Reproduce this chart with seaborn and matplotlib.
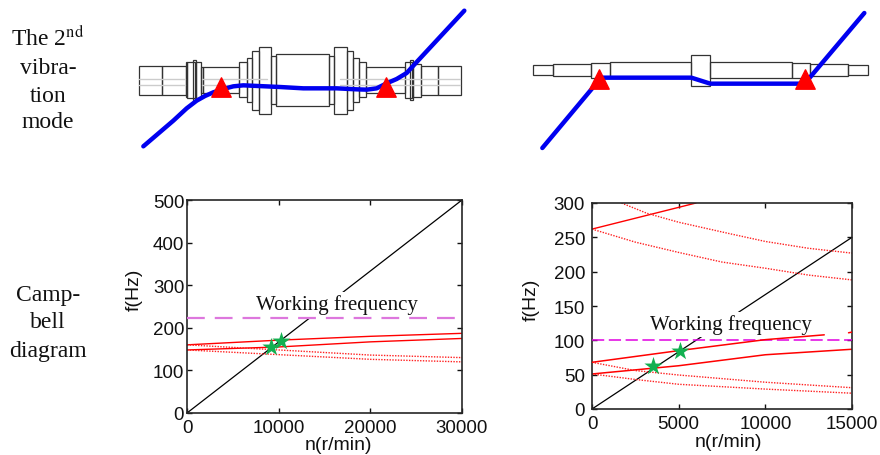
import numpy as np
import pandas as pd
import matplotlib
matplotlib.use('Agg')
import matplotlib.pyplot as plt
from matplotlib.patches import Rectangle
import seaborn as sns

sns.set_theme(style='ticks')
plt.rcParams['font.family'] = ['Liberation Sans', 'DejaVu Sans']
plt.rcParams['mathtext.fontset'] = 'stix'

#--- shaft sketches, (x0, x1, y0, y1) in sketch units
left_shaft = [(27,95,200,288), (95,167,200,288), (167,172,190,295), (172,195,188,297),
              (190,197,182,303), (197,212,190,297), (212,218,205,283), (218,328,205,283),
              (328,350,190,295), (350,367,178,310), (367,387,155,332), (387,424,143,344),
              (424,439,172,315), (439,598,166,320), (598,613,172,315), (613,650,143,344),
              (650,670,155,332), (670,688,178,310), (688,709,190,295), (709,825,205,283),
              (825,845,190,297), (840,848,182,303), (848,872,195,295), (872,924,200,288),
              (924,992,200,288)]
left_center_x = [27, 165, 215, 410, 630, 990]
left_center_y = [240, 257]
left_mode_x = [40, 130, 170, 200, 225, 250, 280, 310, 340, 450, 520, 620, 680, 710, 740, 770, 800, 830, 850, 1003]
left_mode_y = [442, 365, 328, 305, 291, 280, 270, 262, 259, 264, 268, 268, 271, 272, 268, 253, 240, 222, 200, 35]
left_bearing_x = [273, 768]
left_bearing_y = [265, 265]

right_shaft = [(40,100,199,229), (100,214,196,232), (214,269,193,236), (269,514,190,236),
               (514,571,167,262), (571,816,190,236), (816,871,193,236), (871,985,196,232),
               (985,1045,199,229)]
right_mode_x = [67, 215, 240, 514, 571, 855, 870, 1033]
right_mode_y = [447, 270, 236, 236, 254, 254, 235, 42]
right_bearing_x = [238, 855]
right_bearing_y = [240, 240]

#--- Campbell diagram, left
l_speed = [0, 10000, 20000, 30000]
l_solid_a = [160, 171, 180, 187]
l_solid_b = [148, 155, 167, 175]
l_dot_a = [160, 148, 136, 130]
l_dot_b = [148, 137, 126, 120]
l_excite_x = [0, 30000]
l_excite_y = [0, 500]
l_work_x = [0, 30000]
l_work_y = [223, 223]
l_star_x = [9200, 10200]
l_star_y = [156, 169]

#--- Campbell diagram, right
r_solid_a_x = [0, 6000]
r_solid_a_y = [262, 300]
r_dot_a_x = [1700, 3170, 5000, 8000, 10000, 12500, 15000]
r_dot_a_y = [300, 285, 272, 255, 244, 234, 227]
r_speed = [0, 2500, 5000, 7500, 10000, 12500, 15000]
r_dot_b = [262, 243, 228, 214, 205, 195, 188]
r_solid_c_x = [0, 5000, 10000, 13400]
r_solid_c_y = [68, 85, 101, 108]
r_solid_c2_x = [14800, 15000]
r_solid_c2_y = [111, 112]
r_solid_d_x = [0, 5000, 10000, 15000]
r_solid_d_y = [51, 63, 79, 87]
r_dot_c_x = [0, 2500, 5000, 10000, 15000]
r_dot_c_y = [68, 56, 49.5, 39, 31]
r_dot_d_y = [51, 43, 36, 29, 23]
r_excite_x = [0, 15000]
r_excite_y = [0, 250]
r_work_x = [0, 15000]
r_work_y = [101, 101]
r_star_x = [3520, 5090]
r_star_y = [62, 85]

W, H = 880, 456
fig = plt.figure(figsize=(W/100, H/100), dpi=100)

def px_axes(x0, x1, y0, y1):
    return fig.add_axes([x0/W, 1 - y1/H, (x1-x0)/W, (y1-y0)/H])

def line(ax, x, y, **kw):
    df = pd.DataFrame({'x': x, 'y': y})
    sns.lineplot(data=df, x='x', y='y', ax=ax, estimator=None, sort=False, **kw)

def sketch(ax, rects, mode_x, mode_y, bear_x, bear_y, xmax, lw):
    for x0, x1, y0, y1 in rects:
        ax.add_patch(Rectangle((x0, y0), x1-x0, y1-y0, fill=False, ec='#333333', lw=lw))
    line(ax, mode_x, mode_y, color='#0000f0', lw=3.2, solid_capstyle='round')
    df = pd.DataFrame({'x': bear_x, 'y': bear_y})
    sns.scatterplot(data=df, x='x', y='y', ax=ax, marker='^', s=195, color='#ff0000',
                    edgecolor='#ff0000', linewidth=1, zorder=5, clip_on=False)
    ax.set_xlim(0, xmax)
    ax.set_ylim(480, 0)
    ax.axis('off')

#--- top row
ax1 = px_axes(130, 480, 0, 160)
for yc in left_center_y:
    line(ax1, left_center_x[:2], [yc, yc], color='#cccccc', lw=1)
    line(ax1, left_center_x[2:4], [yc, yc], color='#cccccc', lw=1)
    line(ax1, left_center_x[4:], [yc, yc], color='#cccccc', lw=1)
sketch(ax1, left_shaft, left_mode_x, left_mode_y, left_bearing_x, left_bearing_y, 1050, 0.9)

ax2 = px_axes(520, 880, 0, 160)
sketch(ax2, right_shaft, right_mode_x, right_mode_y, right_bearing_x, right_bearing_y, 1080, 0.9)

#--- bottom row
def campbell(ax, xmax, ymax, xticks, yticks, ypad, xlab_pos, ylab_pos):
    ax.set_xlim(0, xmax)
    ax.set_ylim(0, ymax)
    ax.set_xticks(xticks)
    ax.set_yticks(yticks)
    ax.tick_params(direction='in', length=3.5, width=1, labelsize=13.5, top=True, right=True,
                   colors='#111111')
    ax.tick_params(axis='x', pad=4)
    ax.tick_params(axis='y', pad=ypad)
    ax.set_xlabel('n(r/min)', fontsize=14, color='#111111', va='center')
    ax.set_ylabel('f(Hz)', fontsize=14, color='#111111', va='center')
    ax.xaxis.set_label_coords(*xlab_pos)
    ax.yaxis.set_label_coords(*ylab_pos)
    for s in ax.spines.values():
        s.set_linewidth(1.2)
        s.set_visible(True)

ax3 = px_axes(187, 462, 201, 414)
line(ax3, l_excite_x, l_excite_y, color='black', lw=0.9)
line(ax3, l_work_x, l_work_y, color='#dd77dd', lw=1.6, linestyle=(0, (8, 4.5)), zorder=4)
line(ax3, l_speed, l_solid_a, color='#ff0000', lw=1)
line(ax3, l_speed, l_solid_b, color='#ff0000', lw=1)
line(ax3, l_speed, l_dot_a, color='#ff2020', lw=1, linestyle=(0, (1, 1)))
line(ax3, l_speed, l_dot_b, color='#ff2020', lw=1, linestyle=(0, (1, 1)))
sns.scatterplot(data=pd.DataFrame({'x': l_star_x, 'y': l_star_y}), x='x', y='y', ax=ax3,
                marker='*', s=190, color='#12b050', linewidth=0, zorder=6)
campbell(ax3, 30000, 500, [0, 10000, 20000, 30000], [0, 100, 200, 300, 400, 500], 2,
         (0.549, -0.15), (-0.193, 0.582))
ax3.text(7530, 232, 'Working frequency', family='Liberation Serif', fontsize=15, color='#111111',
         va='bottom', zorder=3, bbox=dict(fc='white', ec='none', pad=2))

ax4 = px_axes(592, 852, 204, 410)
line(ax4, r_excite_x, r_excite_y, color='black', lw=0.9)
line(ax4, r_work_x, r_work_y, color='#e000e0', lw=1.1, linestyle=(0, (8, 3)), zorder=4)
line(ax4, r_solid_a_x, r_solid_a_y, color='#ff0000', lw=1)
line(ax4, r_dot_a_x, r_dot_a_y, color='#ff2020', lw=1, linestyle=(0, (1, 1)))
line(ax4, r_speed, r_dot_b, color='#ff2020', lw=1, linestyle=(0, (1, 1)))
line(ax4, r_solid_c_x, r_solid_c_y, color='#ff0000', lw=1.1, zorder=4)
line(ax4, r_solid_c2_x, r_solid_c2_y, color='#ff0000', lw=1.1, zorder=4)
line(ax4, r_solid_d_x, r_solid_d_y, color='#ff0000', lw=1.1)
line(ax4, r_dot_c_x, r_dot_c_y, color='#ff2020', lw=1, linestyle=(0, (1, 1)))
line(ax4, r_dot_c_x, r_dot_d_y, color='#ff2020', lw=1, linestyle=(0, (1, 1)))
sns.scatterplot(data=pd.DataFrame({'x': r_star_x, 'y': r_star_y}), x='x', y='y', ax=ax4,
                marker='*', s=190, color='#12b050', linewidth=0, zorder=6)
campbell(ax4, 15000, 300, [0, 5000, 10000, 15000], [0, 50, 100, 150, 200, 250, 300], 5,
         (0.523, -0.16), (-0.234, 0.534))
ax4.text(3350, 109, 'Working frequency', family='Liberation Serif', fontsize=15, color='#111111',
         va='bottom', zorder=3, bbox=dict(fc='white', ec='none', pad=2))

#--- row captions
top_rows = ['The 2$^{\\mathrm{nd}}$', 'vibra-', 'tion', 'mode']
top_y = [38, 68, 96, 122]
bot_rows = ['Camp-', 'bell', 'diagram']
bot_y = [296, 323, 352]
for txt, y in zip(top_rows + bot_rows, top_y + bot_y):
    fig.text(48/W, 1 - y/H, txt, family='Liberation Serif', fontsize=17, color='#111111',
             ha='center', va='center')

fig.savefig('out.png', dpi=100)
